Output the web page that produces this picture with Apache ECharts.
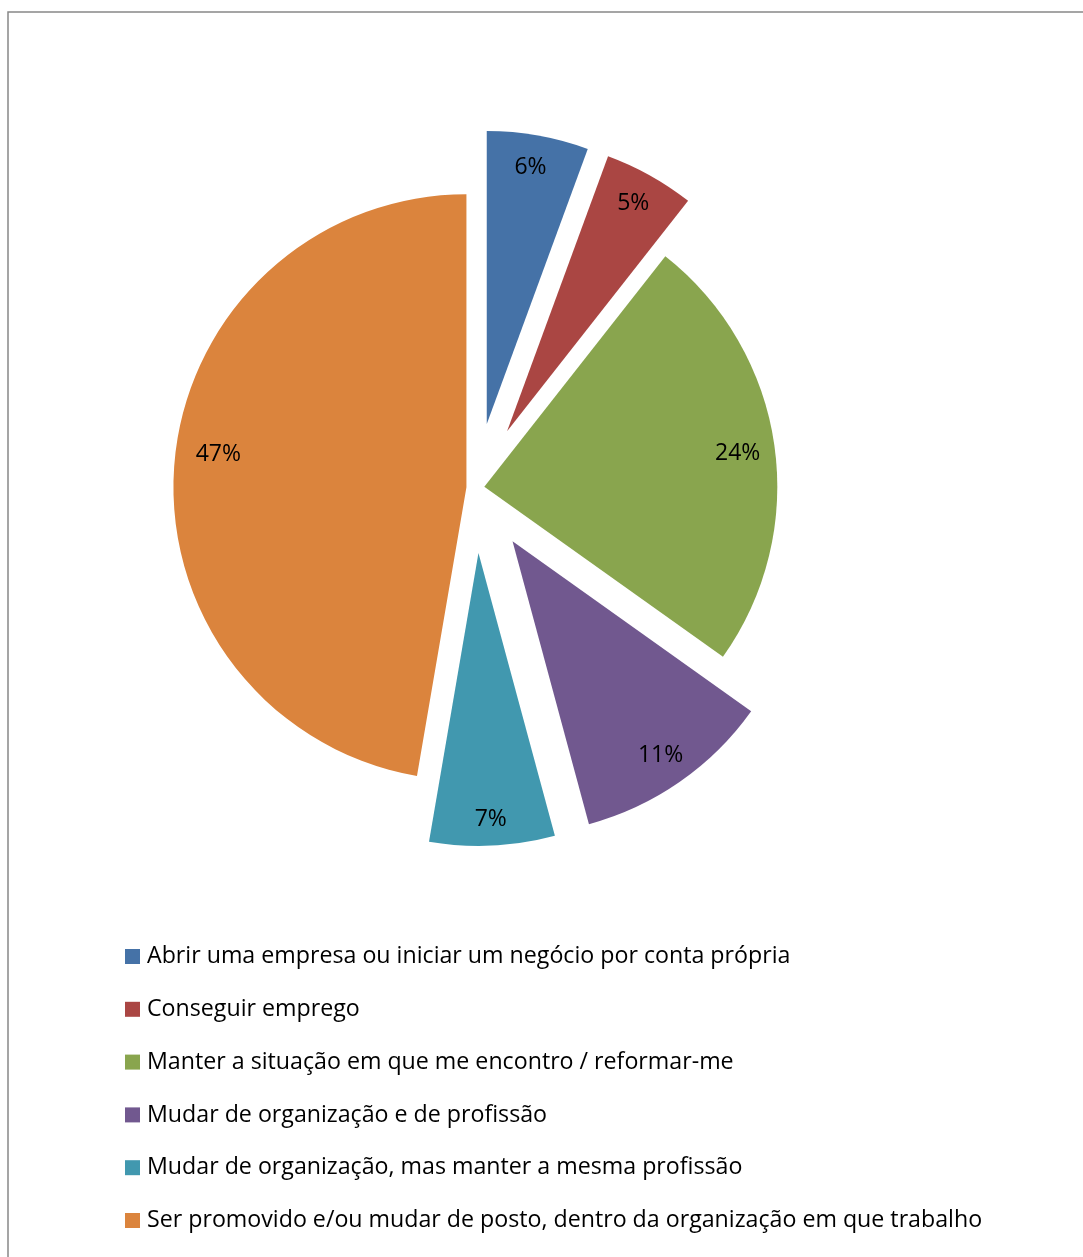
<!DOCTYPE html>
<html>
<head>
<meta charset="utf-8">
<script src="https://cdn.jsdelivr.net/npm/echarts@6/dist/echarts.min.js"></script>
<style>
  html, body { margin: 0; padding: 0; background: #fff; }
  #chart { width: 1083px; height: 1257px; }
</style>
</head>
<body>
<div id="chart"></div>
<script>
const categories = [
  'Abrir uma empresa ou iniciar um negócio por conta própria',
  'Conseguir emprego',
  'Manter a situação em que me encontro / reformar-me',
  'Mudar de organização e de profissão',
  'Mudar de organização, mas manter a mesma profissão',
  'Ser promovido e/ou mudar de posto, dentro da organização em que trabalho'
];
const values = [5.6, 5.0, 24.25, 10.95, 6.9, 47.3];
const colors = ['#4572A7', '#AA4643', '#89A54E', '#71588F', '#4198AF', '#DB843D'];

// explosion groups (styling)
const farGroup = [0, 1, 3, 4];
const nearGroup = [2, 5];
// small per-label nudges: horizontal via padding [0, right, 0, left], vertical via empty line
const labelPadsX = [[0, 4, 0, 0], [0, 2, 0, 0], [0, 10, 0, 0], [0, 2, 0, 0], [0, 0, 0, 0], [0, 0, 0, 24]];
const labelDy = [1, 2, 4, -2, 6, -11];

const CENTER = [475.4, 488];
const R = 293;
const FONT = 'Open Sans';

function labelFor(i) {
  const dy = labelDy[i];
  const lab = { padding: labelPadsX[i] };
  if (Math.abs(dy) >= 3) {
    lab.lineHeight = 2 * Math.abs(dy);
    lab.formatter = p => {
      const t = Math.round(p.percent) + '%';
      return dy > 0 ? '\n' + t : t + '\n';
    };
  }
  return lab;
}

function makeSeries(group, offset, withLabels) {
  return {
    type: 'pie',
    center: CENTER,
    radius: withLabels ? [223, R] : [0, R],
    startAngle: 90,
    clockwise: true,
    selectedMode: 'multiple',
    selectedOffset: offset,
    avoidLabelOverlap: false,
    silent: true,
    animation: false,
    labelLine: { show: false },
    emphasis: { disabled: true },
    label: {
      show: withLabels,
      position: 'inside',
      fontFamily: FONT,
      fontSize: 23,
      color: '#000',
      formatter: p => Math.round(p.percent) + '%'
    },
    data: categories.map((name, i) => ({
      name: name,
      value: values[i],
      selected: true,
      itemStyle: {
        color: (!withLabels && group.includes(i)) ? colors[i] : 'rgba(0,0,0,0)',
        borderWidth: 0
      },
      label: Object.assign({ show: withLabels && group.includes(i) }, labelFor(i))
    }))
  };
}

const chart = echarts.init(document.getElementById('chart'), null, { renderer: 'canvas' });
chart.setOption({
  animation: false,
  color: colors,
  graphic: [{
    type: 'rect',
    silent: true,
    shape: { x: 8, y: 12, width: 1200, height: 1400 },
    style: { fill: 'none', stroke: '#888888', lineWidth: 1.5 }
  }],
  legend: {
    orient: 'vertical',
    left: 125,
    top: 944.5,
    padding: 0,
    icon: 'rect',
    itemWidth: 15,
    itemHeight: 15,
    itemGap: 28.8,
    selectedMode: false,
    textStyle: { fontFamily: FONT, fontSize: 23.2, color: '#000', lineHeight: 24, padding: [0, 0, 0, 2] },
    data: categories.map((n, i) => ({ name: n, itemStyle: { color: colors[i] } }))
  },
  series: [
    makeSeries(farGroup, 65, false),
    makeSeries(nearGroup, 9, false),
    makeSeries(farGroup, 65, true),
    makeSeries(nearGroup, 9, true)
  ]
});
</script>
</body>
</html>
